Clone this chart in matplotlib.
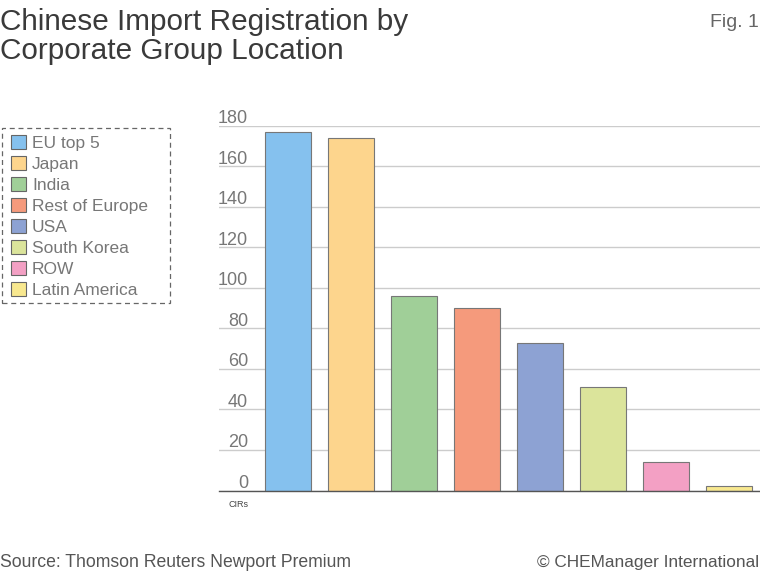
import matplotlib
matplotlib.use("Agg")
import matplotlib.pyplot as plt
from matplotlib.patches import Patch, Rectangle

categories = ["EU top 5", "Japan", "India", "Rest of Europe", "USA", "South Korea", "ROW", "Latin America"]
values = [177, 174, 96, 90, 73, 51, 14, 2]
colors = ["#85c1ee", "#fdd58d", "#a0cf98", "#f59a7c", "#8da2d3", "#dbe49b", "#f3a0c4", "#f8e88f"]
yticks = [0, 20, 40, 60, 80, 100, 120, 140, 160, 180]

plt.rcParams['font.family'] = ['Liberation Sans', 'DejaVu Sans']
W, H = 760, 572
fig = plt.figure(figsize=(W/100, H/100), dpi=100)
ax = fig.add_axes([219/W, 1-490.5/H, (W-219)/W, (490.5-125.8)/H])
x = list(range(len(values)))
ax.bar(x, values, width=0.73, color=colors, edgecolor="#777777", linewidth=0.8, zorder=3)
ax.set_xlim(-1.095, 7.492)
ax.set_ylim(0, 180)
ax.set_yticks(yticks)
ax.set_xticks([])
ax.tick_params(axis='y', length=0, labelleft=False)
ax.grid(axis='y', color="#cccccc", linewidth=1.0, zorder=0)
for s in ['top', 'right', 'left']:
    ax.spines[s].set_visible(False)
ax.spines['bottom'].set_color("#555555")
ax.spines['bottom'].set_linewidth(1.0)
ax.spines['bottom'].set_zorder(4)
for t in yticks:
    ax.annotate(str(t), (0, t), xycoords=('axes fraction', 'data'), xytext=(21, 2), textcoords='offset points',
                ha='right', va='baseline', fontsize=13, color="#777777")

fig.text(0/W, 1-30/H, "Chinese Import Registration by", fontsize=21.4, color="#3a3a3a", va='baseline')
fig.text(0/W, 1-59/H, "Corporate Group Location", fontsize=21.4, color="#3a3a3a", va='baseline')
fig.text(759/W, 1-27/H, "Fig. 1", fontsize=14, color="#666666", ha='right', va='baseline')
fig.text(228.5/W, 1-507/H, "CIRs", fontsize=6.5, color="#444444", va='baseline')
fig.text(0/W, 1-567/H, "Source: Thomson Reuters Newport Premium", fontsize=12.7, color="#555555", va='baseline')
fig.text(759/W, 1-567/H, "© CHEManager International", fontsize=12.4, color="#555555", ha='right', va='baseline')

fig.add_artist(Rectangle((2/W, 1-302.5/H), 168/W, 175/H, transform=fig.transFigure, fill=False,
                         edgecolor="#666666", linewidth=0.9, linestyle=(0, (4, 3))))
handles = [Patch(facecolor=c, edgecolor="#666666", linewidth=0.8, label=n) for c, n in zip(colors, categories)]
leg = fig.legend(handles=handles, loc='upper left', bbox_to_anchor=(3.8/W, 1-128/H), borderaxespad=0,
                 fontsize=12.5, labelcolor="#777777", frameon=False,
                 handlelength=0.85, handleheight=0.85, handletextpad=0.36, labelspacing=0.29, borderpad=0.42)
fig.savefig("out.png", dpi=100)
